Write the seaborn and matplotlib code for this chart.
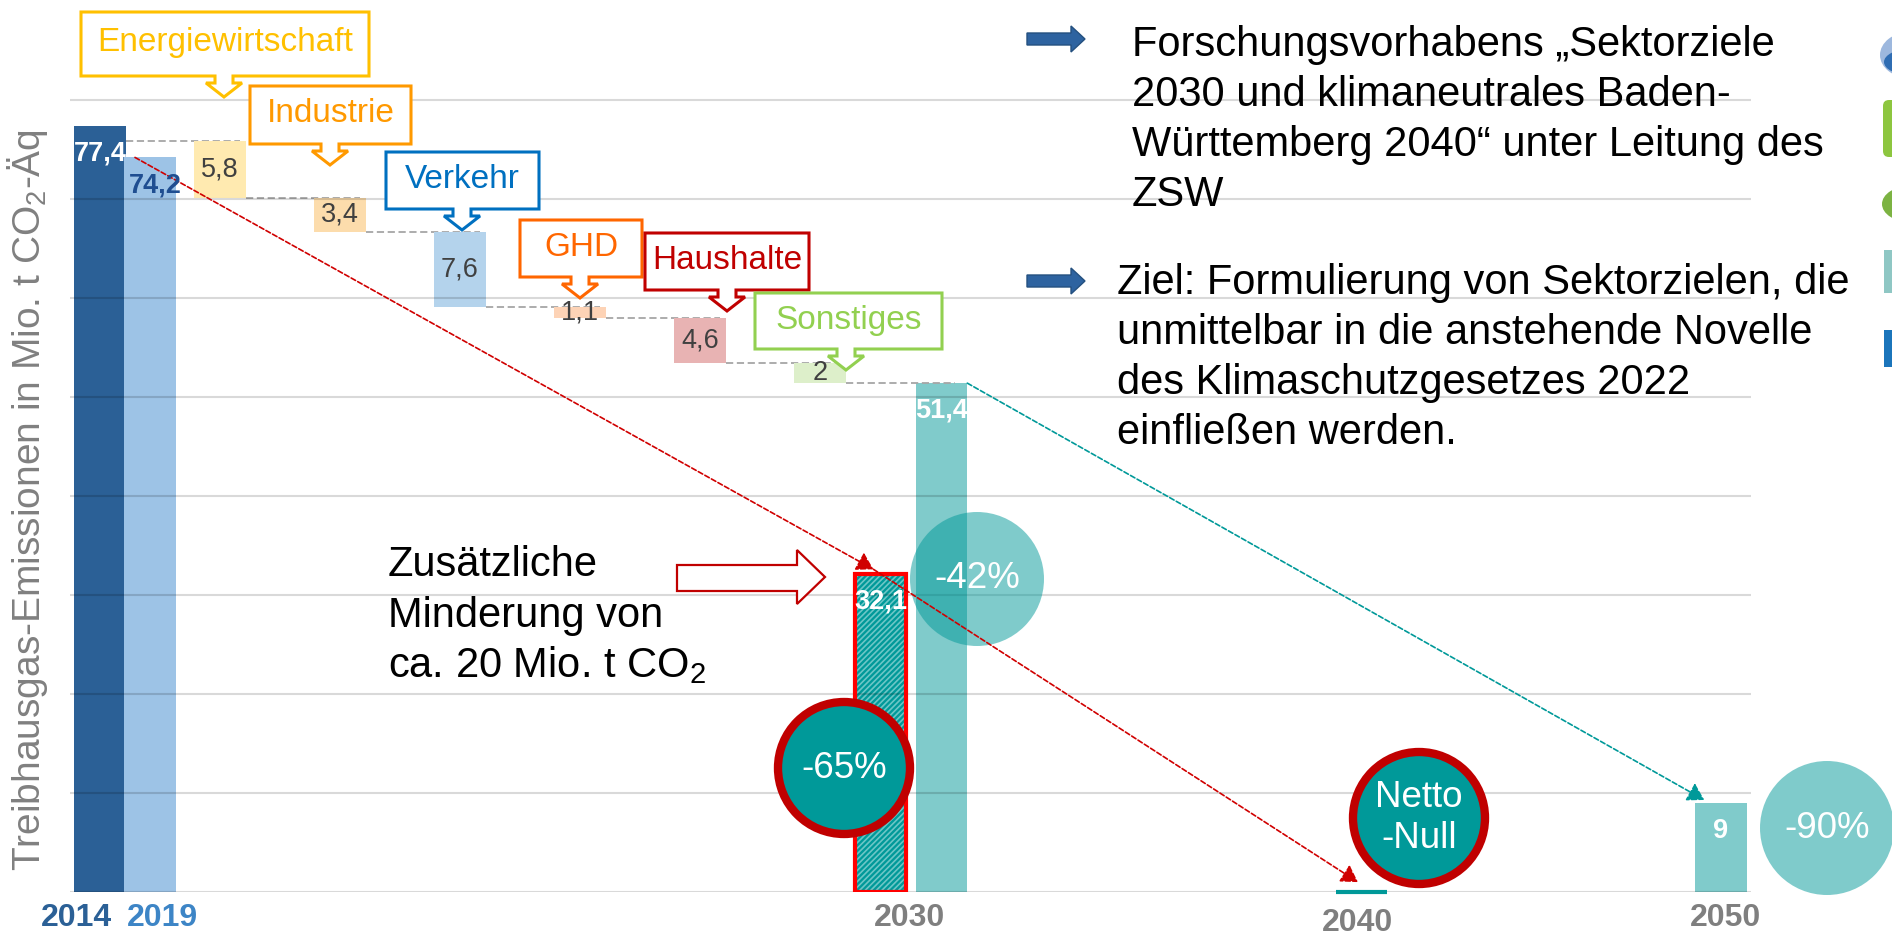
import numpy as np
import pandas as pd
import matplotlib
matplotlib.use("Agg")
import matplotlib.pyplot as plt
import matplotlib.transforms as mtransforms
from matplotlib.patches import Polygon, Ellipse, FancyBboxPatch, Rectangle
import seaborn as sns

# values (Mio. t CO2-Aeq)
YEARS = ["2014", "2019", "2030", "2040", "2050"]
EMISSIONS = [77.4, 74.2, 51.4, 0.0, 9.0]
EXTRA_2030 = 32.1  # 2030 incl. additional reduction
SECTORS = ["Energiewirtschaft", "Industrie", "Verkehr", "GHD", "Haushalte", "Sonstiges"]
SECTOR_CUTS = [5.8, 3.4, 7.6, 1.1, 4.6, 2.0]
REDUCTIONS = ["-42%", "-65%", "Netto\n-Null", "-90%"]
NOTE = ["Zusätzliche", "Minderung von", "ca. 20 Mio. t CO$_2$"]
INFO_1 = ["Forschungsvorhabens „Sektorziele", "2030 und klimaneutrales Baden-",
          "Württemberg 2040“ unter Leitung des", "ZSW"]
INFO_2 = ["Ziel: Formulierung von Sektorzielen, die", "unmittelbar in die anstehende Novelle",
          "des Klimaschutzgesetzes 2022", "einfließen werden."]
YLABEL = "Treibhausgas-Emissionen in Mio. t CO$_2$-Äq"

# colours
YEAR_COLORS = ["#2b6096", "#9dc3e6", "#80cbcb", "#009999", "#80cbcb"]
YEAR_TICK_COLORS = ["#2b6096", "#3d85c6", "#7f7f7f", "#7f7f7f", "#7f7f7f"]
VALUE_COLORS = ["white", "#1f4e91", "white", None, "white"]
SECTOR_LINE = ["#ffc000", "#ff9900", "#0070c0", "#ff6600", "#c00000", "#92d050"]
SECTOR_FILL = ["#ffeab0", "#fcdcac", "#b4d3ec", "#fdd3b6", "#e8b3b3", "#ddefca"]
TEAL = "#009999"
RED = "#c00000"

# layout (x in slot units, px measured from the top left corner)
W, H = 1892, 939
YEAR_X = [0.833, 1.25, 7.846, 11.346, 14.342]
SECTOR_X = 1.833 + np.arange(len(SECTORS))
EXTRA_X = 7.338
TICK_X = [0.633, 1.35, 7.583, 11.31, 14.38]
TICK_DROP = [0, 0, 0, 5, 0]
BAR_W = 0.43
CALLOUT_PX = [(81, 12, 369, 76, 224), (250, 86, 411, 144, 330), (386, 152, 539, 209, 462),
              (520, 220, 642, 277, 580), (645, 233, 809, 290, 727), (755, 293, 942, 349, 846)]
CIRCLE_PX = [(977, 579), (844, 768), (1419, 818), (1827, 828)]
CIRCLE_RING = [False, True, True, False]

sns.set_theme(style="whitegrid")
plt.rcParams["font.family"] = ["Liberation Sans", "DejaVu Sans"]
plt.rcParams["mathtext.fontset"] = "custom"
plt.rcParams["mathtext.rm"] = "Liberation Sans"
plt.rcParams["mathtext.default"] = "regular"
plt.rcParams["hatch.linewidth"] = 1.2

fig = plt.figure(figsize=(W / 100, H / 100), dpi=100)
ax = fig.add_axes([70 / W, 47 / H, 1681 / W, 892 / H])
PX = mtransforms.Affine2D().scale(1 / W, -1 / H).translate(0, 1) + fig.transFigure


def fmt(v):
    return f"{v:g}".replace(".", ",")


#main year bars
df_years = pd.DataFrame({"pos": YEAR_X, "value": EMISSIONS, "year": YEARS})
sns.barplot(data=df_years, x="pos", y="value", hue="year",
            palette=dict(zip(YEARS, YEAR_COLORS)), native_scale=True, dodge=False,
            width=BAR_W / np.diff(YEAR_X).min(), errorbar=None, legend=False,
            saturation=1, linewidth=0, ax=ax)
for p in ax.patches:
    if p.get_height() == 0:
        # net zero in 2040: only a flat teal line on the baseline
        p.set_edgecolor(TEAL)
        p.set_linewidth(3)
        p.set_zorder(3)
        p.set_clip_on(False)

# waterfall of sector cuts, stacked down to the 2030 target
target = EMISSIONS[2]
bottoms = [target + sum(SECTOR_CUTS[i + 1:]) for i in range(len(SECTOR_CUTS))]
ax.bar(SECTOR_X, SECTOR_CUTS, bottom=bottoms, width=BAR_W + 0.01, color=SECTOR_FILL,
       linewidth=0, zorder=2)

levels = [bottoms[0] + SECTOR_CUTS[0]] + bottoms
starts = [YEAR_X[0] + BAR_W / 2] + list(SECTOR_X + BAR_W / 2)
ends = list(SECTOR_X + BAR_W / 2 - 0.05) + [YEAR_X[2] + BAR_W / 2 - 0.1]
ax.hlines(levels, starts, ends, colors="#a6a6a6", linestyles=(0, (4, 2)), linewidth=1.3, zorder=1.5)

# hatched 2030 bar with additional reduction
ax.bar(EXTRA_X, EXTRA_2030, width=BAR_W, color=TEAL, edgecolor="#6cc6c6", hatch="//////",
       linewidth=0, zorder=2)
ax.bar(EXTRA_X, EXTRA_2030, width=BAR_W, fill=False, edgecolor="#ff0000", linewidth=3, zorder=3)

# value labels
x_shift = [0, 4, 0, 0, 0]
for x, v, c, dx in zip(YEAR_X, EMISSIONS, VALUE_COLORS, x_shift):
    if c is None:
        continue
    ax.annotate(fmt(v), (x, v), xytext=(dx, -20), textcoords="offset points", ha="center",
                va="center", color=c, fontsize=19.5, fontweight="bold", zorder=6)
ax.annotate(fmt(EXTRA_2030), (EXTRA_X, EXTRA_2030), xytext=(0, -20), textcoords="offset points",
            ha="center", va="center", color="white", fontsize=19.5, fontweight="bold", zorder=6)
for x, b, v in zip(SECTOR_X, bottoms, SECTOR_CUTS):
    ax.text(x, b + v / 2, fmt(v), ha="center", va="center", fontsize=19.5, color="#404040", zorder=6)


def arrow(p0, p1, color):
    ax.annotate("", xy=p1, xytext=p0, zorder=5,
                arrowprops=dict(arrowstyle="-|>,head_length=0.5,head_width=0.3", color=color,
                                lw=1.2, linestyle=(0, (3, 1.5)), shrinkA=0, shrinkB=0,
                                mutation_scale=20))


arrow((1.125, EMISSIONS[1]), (EXTRA_X - 0.06, EXTRA_2030 + 0.5), "#d00000")
arrow((EXTRA_X - 0.06, EXTRA_2030 + 0.5), (YEAR_X[3] - 0.03, EMISSIONS[3] + 1.0), "#d00000")
arrow((YEAR_X[2] + BAR_W / 2, EMISSIONS[2]), (YEAR_X[4] - 0.14, EMISSIONS[4] + 0.3), TEAL)

# reduction circles
for (cx, cy), ring, txt in zip(CIRCLE_PX, CIRCLE_RING, REDUCTIONS):
    if ring:
        e = Ellipse((cx, cy), 132, 132, transform=PX, facecolor=TEAL, edgecolor=RED,
                    linewidth=6, zorder=4)
    else:
        e = Ellipse((cx, cy), 134, 134, transform=PX, facecolor=TEAL, alpha=0.5,
                    linewidth=0, zorder=4)
    ax.add_patch(e)
    e.set_clip_on(False)
    ax.text(cx, cy, txt, transform=PX, ha="center", va="center", color="white", fontsize=26.5,
            zorder=6, clip_on=False)

# sector callouts
for name, (x0, y0, x1, y1, tx), col in zip(SECTORS, CALLOUT_PX, SECTOR_LINE):
    pts = [(x0, y0), (x1, y0), (x1, y1), (tx + 9, y1), (tx + 9, y1 + 7), (tx + 18, y1 + 7),
           (tx, y1 + 21), (tx - 18, y1 + 7), (tx - 9, y1 + 7), (tx - 9, y1), (x0, y1)]
    poly = Polygon(pts, closed=True, transform=PX, facecolor="white", edgecolor=col,
                   linewidth=2.2, zorder=5, joinstyle="miter")
    ax.add_patch(poly)
    poly.set_clip_on(False)
    ax.text((x0 + x1) / 2, (y0 + y1) / 2 - 1, name, transform=PX, ha="center", va="center",
            color=col, fontsize=24, zorder=6, clip_on=False)

# note with hollow arrow
for i, line in enumerate(NOTE):
    ax.text(388, 576 + 50.5 * i, line, transform=PX, fontsize=30, va="baseline", ha="left",
            color="black", zorder=6, clip_on=False)
hollow = Polygon([(677, 565), (797, 565), (797, 550), (825, 577), (797, 604), (797, 591), (677, 591)],
                 closed=True, transform=PX, facecolor="white", edgecolor=RED, linewidth=1.6, zorder=5)
ax.add_patch(hollow)
hollow.set_clip_on(False)

# right hand text blocks
for cy, x_txt, lines, base in [(39, 1132, INFO_1, 56), (281, 1117, INFO_2, 294)]:
    pts = [(1027, cy - 6), (1071, cy - 6), (1071, cy - 13), (1085, cy), (1071, cy + 13),
           (1071, cy + 6), (1027, cy + 6)]
    blue = Polygon(pts, closed=True, transform=PX, facecolor="#2e63a0", edgecolor="#24507f",
                   linewidth=1, zorder=5)
    ax.add_patch(blue)
    blue.set_clip_on(False)
    for i, line in enumerate(lines):
        ax.text(x_txt, base + 50 * i, line, transform=PX, fontsize=30, va="baseline", ha="left",
                color="black", zorder=6, clip_on=False)

# partner logos cut off at the right edge
logos = [Ellipse((1910, 55), 60, 46, facecolor="#9db8de"),
         Ellipse((1910, 62), 52, 26, facecolor="#2f6db3"),
         FancyBboxPatch((1883, 100), 30, 57, boxstyle="round,pad=0,rounding_size=6", facecolor="#8dc63f"),
         Ellipse((1910, 204), 56, 36, facecolor="#7cb342"),
         Rectangle((1884, 250), 8, 43, facecolor="#8fc7c4"),
         Rectangle((1884, 330), 20, 37, facecolor="#1b75bb")]
for lg in logos:
    lg.set_transform(PX)
    lg.set_linewidth(0)
    lg.set_zorder(5)
    ax.add_patch(lg)
    lg.set_clip_on(False)

# axes styling
ax.set_xlim(70 / 120, 1751 / 120)
ax.set_ylim(0, 892 / 9.9)
ax.set_yticks(np.arange(0, 81, 10))
ax.set_yticklabels([])
ax.set_xticks(TICK_X, labels=YEARS)
ax.tick_params(axis="x", length=0, pad=8, labelsize=23)
ax.tick_params(axis="y", length=0)
for lab, c, drop in zip(ax.get_xticklabels(), YEAR_TICK_COLORS, TICK_DROP):
    lab.set_color(c)
    lab.set_fontweight("bold")
    if drop:
        lab.set_transform(lab.get_transform()
                          + mtransforms.ScaledTranslation(0, -drop / 100, fig.dpi_scale_trans))
ax.grid(axis="x", visible=False)
ax.grid(axis="y", color="black", alpha=0.15, linewidth=1.5)
ax.set_axisbelow(False)
ax.set_xlabel("")
ax.set_ylabel(YLABEL, fontsize=28, color="#808080")
ax.yaxis.set_label_coords((50 - 70) / 1681, (892 - 500) / 892)
sns.despine(ax=ax, left=True, bottom=True)

fig.savefig("out.png", dpi=100)
